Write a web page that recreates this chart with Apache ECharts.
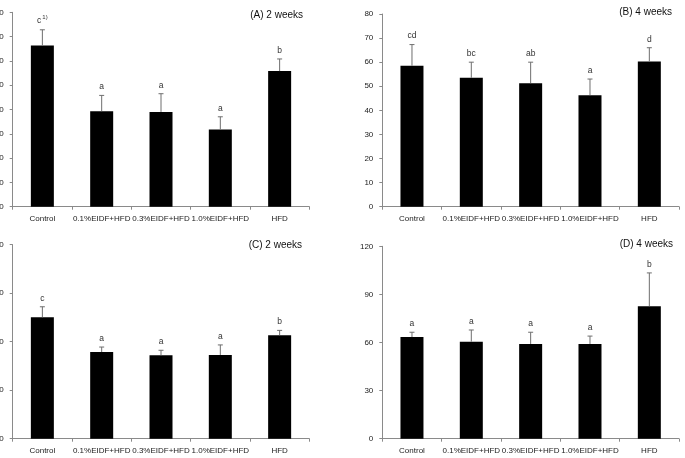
<!DOCTYPE html>
<html><head><meta charset="utf-8">
<script src="https://cdn.jsdelivr.net/npm/echarts@6/dist/echarts.min.js"></script>
<style>html,body{margin:0;padding:0;background:#fff}#c{width:685px;height:458px}</style>
</head><body><div id="c"></div>
<script>
var categories = ['Control', '0.1%EIDF+HFD', '0.3%EIDF+HFD', '1.0%EIDF+HFD', 'HFD'];

var titleA = '(A) 2 weeks';
var valuesA = [66.3, 39.3, 39.0, 31.8, 55.8];
var errorTopA = [72.8, 45.8, 46.5, 37.0, 60.8];
var lettersA = ['c{s|1)}', 'a', 'a', 'a', 'b'];

var titleB = '(B) 4 weeks';
var valuesB = [58.5, 53.5, 51.3, 46.3, 60.3];
var errorTopB = [67.3, 60.0, 60.0, 53.0, 66.0];
var lettersB = ['cd', 'bc', 'ab', 'a', 'd'];

var titleC = '(C) 2 weeks';
var valuesC = [75.1, 53.6, 51.6, 51.8, 64.0];
var errorTopC = [81.6, 56.7, 54.7, 58.0, 67.0];
var lettersC = ['c', 'a', 'a', 'a', 'b'];

var titleD = '(D) 4 weeks';
var valuesD = [63.4, 60.5, 59.1, 59.1, 82.6];
var errorTopD = [66.4, 67.8, 66.4, 64.0, 103.4];
var lettersD = ['a', 'a', 'a', 'a', 'b'];

var yMaxTop = 80, yStepTop = 10;
var yMaxBottom = 120, yStepBottom = 30;

var FONT = 'Liberation Sans, Arial, sans-serif';
var panels = [
  {title: titleA, values: valuesA, err: errorTopA, letters: lettersA, max: yMaxTop, step: yStepTop,
   grid: {left: 12.7, right: 375.7, top: 12.3, bottom: 251.3}, tx: 303, ty: 10},
  {title: titleB, values: valuesB, err: errorTopB, letters: lettersB, max: yMaxTop, step: yStepTop,
   grid: {left: 382.3, right: 6, top: 14, bottom: 251.3}, tx: 672, ty: 7},
  {title: titleC, values: valuesC, err: errorTopC, letters: lettersC, max: yMaxBottom, step: yStepBottom,
   grid: {left: 12.7, right: 375.7, top: 244.7, bottom: 19.3}, tx: 302, ty: 240},
  {title: titleD, values: valuesD, err: errorTopD, letters: lettersD, max: yMaxBottom, step: yStepBottom,
   grid: {left: 382.3, right: 6, top: 246.3, bottom: 19.3}, tx: 673, ty: 239}
];

var option = {animation: false, backgroundColor: '#fff', grid: [], xAxis: [], yAxis: [], series: [], graphic: []};
var axisLine = {show: true, lineStyle: {color: '#8a8a8a', width: 1}};
panels.forEach(function (p, i) {
  var g = Object.assign({containLabel: false, outerBoundsMode: 'none'}, p.grid);
  option.grid.push(g);
  option.xAxis.push({
    type: 'category', gridIndex: i, data: categories, boundaryGap: true,
    axisLine: axisLine,
    axisTick: {show: true, length: 3, alignWithLabel: false, lineStyle: {color: '#8a8a8a'}},
    axisLabel: {fontFamily: FONT, fontSize: 8, color: '#222', margin: 8, interval: 0}
  });
  option.yAxis.push({
    type: 'value', gridIndex: i, min: 0, max: p.max, interval: p.step,
    splitLine: {show: false},
    axisLine: axisLine,
    axisTick: {show: true, length: 3, lineStyle: {color: '#8a8a8a'}},
    axisLabel: {fontFamily: FONT, fontSize: 8, color: '#222', margin: 9}
  });
  option.series.push({
    type: 'bar', xAxisIndex: i, yAxisIndex: i, data: p.values, barWidth: 23,
    itemStyle: {color: '#000'}, silent: true
  });
  var errData = p.values.map(function (v, k) { return [k, v, p.err[k], p.letters[k]]; });
  option.series.push({
    type: 'custom', xAxisIndex: i, yAxisIndex: i, data: errData, silent: true, z: 5,
    renderItem: function (params, api) {
      var x = api.value(0);
      var top = api.coord([x, api.value(1)]);
      var hi = api.coord([x, api.value(2)]);
      var letter = errData[params.dataIndex][3];
      return {
        type: 'group', children: [
          {type: 'line', shape: {x1: top[0], y1: top[1], x2: hi[0], y2: hi[1]}, style: {stroke: '#6e6e6e', lineWidth: 1}},
          {type: 'line', shape: {x1: hi[0] - 2.5, y1: hi[1], x2: hi[0] + 2.5, y2: hi[1]}, style: {stroke: '#6e6e6e', lineWidth: 1}},
          {type: 'text', x: hi[0], y: hi[1] - 4, style: {
            text: letter, align: 'center', verticalAlign: 'bottom', fontFamily: FONT, fontSize: 8.5, fill: '#333',
            rich: {s: {fontSize: 6, verticalAlign: 'top', padding: [0, 0, 5, 1], fill: '#333', fontFamily: FONT}}
          }}
        ]
      };
    }
  });
  option.graphic.push({
    type: 'text', right: 685 - p.tx, top: p.ty,
    style: {text: p.title, fontFamily: FONT, fontSize: 10, fill: '#111'}
  });
});
var chart = echarts.init(document.getElementById('c'), null, {renderer: 'canvas'});
chart.setOption(option);
</script></body></html>
